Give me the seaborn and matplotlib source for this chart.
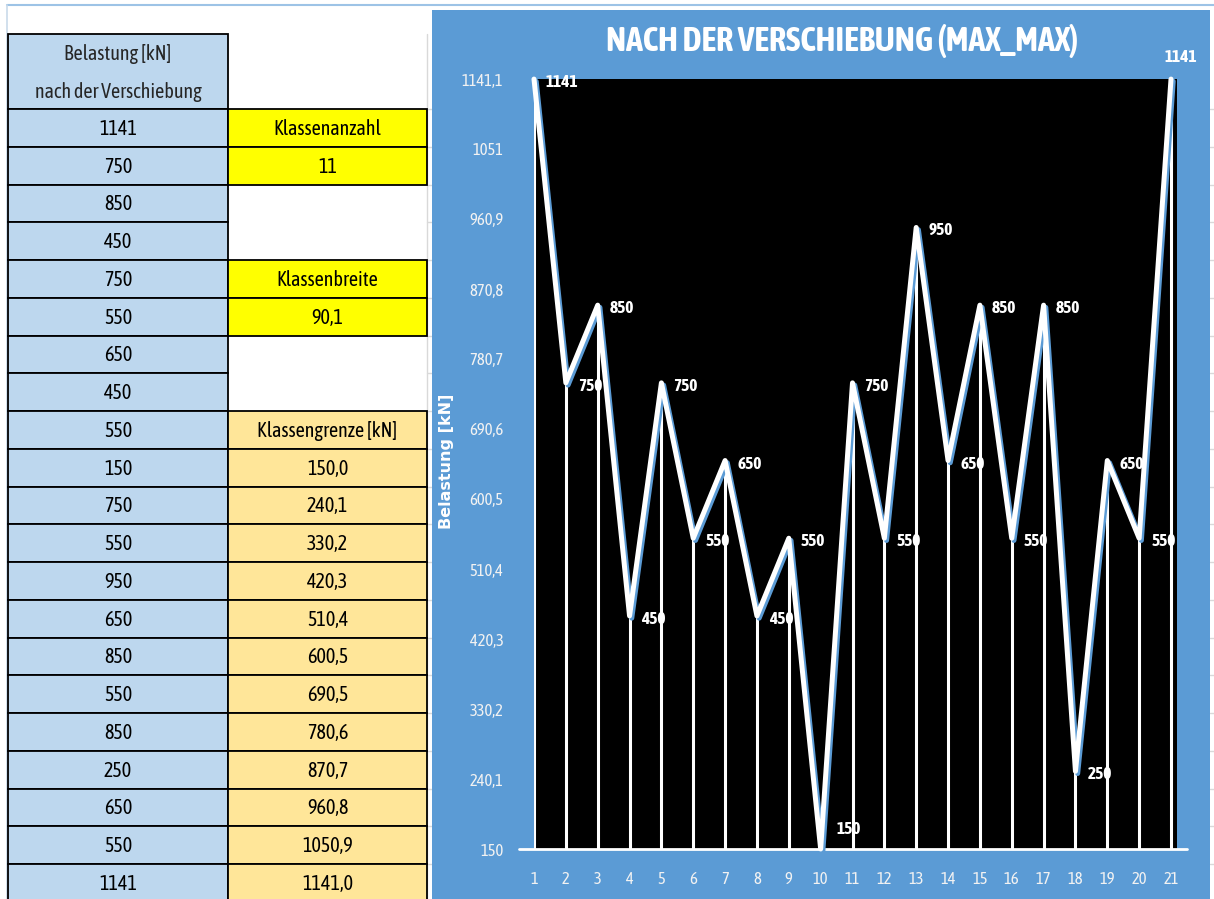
import numpy as np
import pandas as pd
import seaborn as sns
import matplotlib
matplotlib.use("Agg")
import matplotlib.pyplot as plt
import matplotlib.patheffects as pe
from matplotlib.patches import Rectangle

# ---------------- data ----------------
positions = list(range(1, 22))
belastung = [1141, 750, 850, 450, 750, 550, 650, 450, 550, 150, 750,
             550, 950, 650, 850, 550, 850, 250, 650, 550, 1141]

y_tick_values = [150, 240.1, 330.2, 420.3, 510.4, 600.5, 690.6, 780.7,
                 870.8, 960.9, 1051, 1141.1]
y_tick_labels = ["150", "240,1", "330,2", "420,3", "510,4", "600,5",
                 "690,6", "780,7", "870,8", "960,9", "1051", "1141,1"]

klassenanzahl = "11"
klassenbreite = "90,1"
klassengrenzen = ["150,0", "240,1", "330,2", "420,3", "510,4", "600,5",
                  "690,5", "780,6", "870,7", "960,8", "1050,9", "1141,0"]

title = "NACH DER VERSCHIEBUNG (MAX_MAX)"
y_label = "Belastung [kN]"

# ---------------- style ----------------
sns.set_style("white")
plt.rcParams["font.family"] = ["Asap Condensed", "Liberation Sans", "DejaVu Sans"]

W, H = 1214, 899
fig = plt.figure(figsize=(W / 100, H / 100), dpi=100)
fig.patch.set_facecolor("white")

# background layer in pixel coordinates (spreadsheet cells)
bg = fig.add_axes([0, 0, 1, 1])
bg.set_xlim(0, W)
bg.set_ylim(H, 0)
bg.axis("off")

BLUE_CELL = "#BDD7EE"
YELLOW = "#FFFF00"
ORANGE = "#FFE699"
PANEL = "#5B9BD5"
GRID = "#D9D9D9"
CELL_FS = 14.5

x0, x1, x2 = 8, 228, 427
head_top, head_bot = 34, 109
row_h = 37.75

# sheet gridlines
for k in range(0, 23):
    yy = head_bot + k * row_h
    bg.plot([x2, 432], [yy, yy], color=GRID, lw=1, zorder=1)
    bg.plot([1210, W], [yy, yy], color=GRID, lw=1, zorder=1)
bg.plot([x2, x2], [head_top, H], color=GRID, lw=1, zorder=1)

# light outer frame of the sheet view
bg.plot([7, W], [5, 5], color="#9DC3E6", lw=1.5, zorder=1)
bg.plot([7, 7], [5, H], color="#C9DAEA", lw=1.2, zorder=1)


def cell(x, y, w, h, fc, text=None):
    bg.add_patch(Rectangle((x, y), w, h, facecolor=fc, edgecolor="black", lw=1.3, zorder=2))
    if text is not None:
        bg.text(x + w / 2, y + h / 2 + 1, text, ha="center", va="center",
                fontsize=CELL_FS, color="black", zorder=3)


# header of value column
cell(x0, head_top, x1 - x0, head_bot - head_top, BLUE_CELL)
bg.text((x0 + x1) / 2, 54, "Belastung [kN]", ha="center", va="center",
        fontsize=CELL_FS, zorder=3)
bg.text((x0 + x1) / 2, 92, "nach der Verschiebung", ha="center", va="center",
        fontsize=CELL_FS, zorder=3)

# value column
for i, v in enumerate(belastung):
    cell(x0, head_bot + i * row_h, x1 - x0, row_h, BLUE_CELL, str(v))

# parameter column
cw = x2 - x1
cell(x1, head_bot + 0 * row_h, cw, row_h, YELLOW, "Klassenanzahl")
cell(x1, head_bot + 1 * row_h, cw, row_h, YELLOW, klassenanzahl)
cell(x1, head_bot + 4 * row_h, cw, row_h, YELLOW, "Klassenbreite")
cell(x1, head_bot + 5 * row_h, cw, row_h, YELLOW, klassenbreite)
cell(x1, head_bot + 8 * row_h, cw, row_h, ORANGE, "Klassengrenze [kN]")
for j, g in enumerate(klassengrenzen):
    cell(x1, head_bot + (9 + j) * row_h, cw, row_h, ORANGE, g)

# chart panel
bg.add_patch(Rectangle((432, 10), 1210 - 432, H, facecolor=PANEL, edgecolor="none", zorder=4))

# ---------------- chart ----------------
L, R, T, B = 534, 1177, 79, 849
ax = fig.add_axes([L / W, 1 - B / H, (R - L) / W, (B - T) / H], zorder=5)
ax.set_facecolor("black")
step = (1171 - L) / 20
ax.set_xlim(1, 21 + (R - 1171) / step)
ax.set_ylim(150, 1141.1)
for s in ax.spines.values():
    s.set_visible(False)

df = pd.DataFrame({"Position": positions, "Belastung": belastung})

# drop lines down to the category axis
ax.vlines(df["Position"], 150, df["Belastung"], colors="white", lw=2.2, zorder=2)

# category axis line
ax.plot([1 - (L - 519) / step, 21 + (1187 - 1171) / step], [150, 150],
        color="white", lw=2, clip_on=False, zorder=2)

sns.lineplot(data=df, x="Position", y="Belastung", ax=ax, color="white",
             lw=3.6, sort=False, clip_on=False, zorder=4,
             path_effects=[pe.SimpleLineShadow(offset=(1.6, -1.6), shadow_color=PANEL, alpha=1.0),
                           pe.Normal()])

# data labels
special = {10: (16, 20), 21: (10, 22)}
for p, v in zip(positions, belastung):
    dx, dy = special.get(p, (12, -3))
    ha = "center" if p == 21 else "left"
    ax.annotate(str(v), (p, v), xytext=(dx, dy), textcoords="offset pixels",
                ha=ha, va="center", color="white", fontsize=12.5,
                fontweight="bold", annotation_clip=False, zorder=6)

ax.set_xticks(positions)
ax.set_xticklabels([str(p) for p in positions])
ax.set_yticks(y_tick_values)
ax.set_yticklabels(y_tick_labels)
ax.tick_params(axis="both", length=0, colors="#F2F2F2", labelsize=12)
ax.tick_params(axis="y", pad=22)
ax.tick_params(axis="x", pad=16)
ax.set_xlabel("")
ax.set_ylabel("")
ax.grid(False)

fig.text(842 / W, 1 - 41 / H, title, ha="center", va="center", color="white",
         fontsize=24.5, fontweight="bold", zorder=10)
fig.text(446 / W, 1 - 461 / H, y_label, rotation=90, ha="center", va="center",
         color="white", fontsize=11.5, fontweight="bold",
         family=["DejaVu Sans"], zorder=10)

fig.savefig("out.png", dpi=100, facecolor=fig.get_facecolor())
